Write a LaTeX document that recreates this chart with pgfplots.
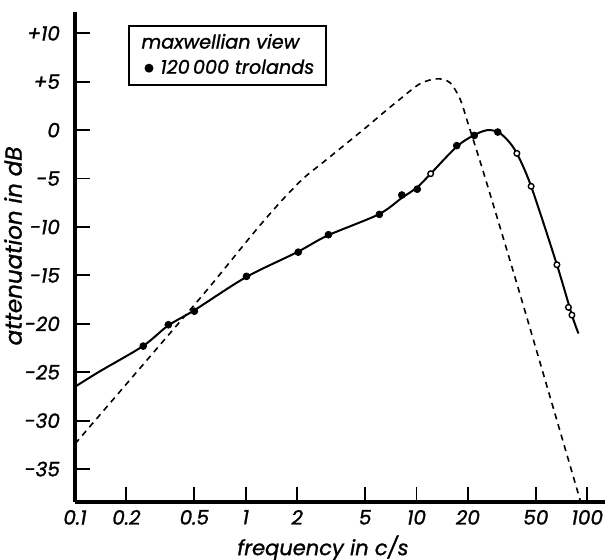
\documentclass[border=0pt]{standalone}
\usepackage{fontspec}
\setmainfont{Poppins}[ItalicFeatures={FakeBold=1.2}]
\usepackage{pgfplots}
\pgfplotsset{compat=1.18}
\pgfplotsset{dotlegend/.style={legend image code/.code={\path (0pt,0pt) (8.75pt,0pt); \draw[##1] plot coordinates {(5.5pt,0pt)};}}}
\begin{document}
\begin{tikzpicture}
\begin{axis}[
  at={(0,0)}, anchor=south west,
  scale only axis, width=265pt, height=245pt,
  xmode=log, xmin=0.1, xmax=127, ymin=-38.4, ymax=12.2,
  axis lines=left, axis line style={-, line width=1.8pt},
  tick align=inside, major tick length=7.5pt,
  every tick/.style={black, line width=0.9pt},
  xminorticks=false, yminorticks=false,
  xtick={0.1,0.2,0.5,1,2,5,10,20,50,100},
  xticklabels={0.1,0.2,0.5,1,2,5,10,20,50,100},
  ytick={10,5,0,-5,-10,-15,-20,-25,-30,-35},
  yticklabels={+10,+5,0,-5,-10,-15,-20,-25,-30,-35},
  tick label style={font=\itshape\fontsize{10}{12}\selectfont},
  xticklabel style={yshift=-0.5pt},
  yticklabel style={xshift=-4pt},
  xlabel={frequency in c/s},
  ylabel={attenuation in dB},
  xlabel style={font=\itshape\fontsize{10.5}{12}\selectfont,
    at={([xshift=124pt,yshift=-23pt]axis description cs:0,0)}, anchor=center},
  ylabel style={font=\itshape\fontsize{11.5}{12}\selectfont,
    at={([xshift=-31pt,yshift=128pt]axis description cs:0,0)}, anchor=center},
  legend style={at={(0.1,0.9735)}, anchor=north west, draw=black, line width=1pt,
    font=\itshape\fontsize{9.6}{12}\selectfont, inner xsep=4pt, inner ysep=2pt},
  legend cell align=left,
]
\addlegendimage{empty legend}
\addlegendentry{\hspace*{-9.5pt}maxwellian view}
% dashed curve
\addplot[black, line width=0.8pt, dash pattern=on 3pt off 2.5pt, smooth, forget plot] coordinates {
(0.1,-32.4) (0.3,-22.6) (0.6,-16.4) (1.0,-11.6) (1.3,-9.2) (1.7,-6.9) (2.2,-4.9)
(2.85,-3.3) (3.57,-1.9) (5.0,0.2) (6.4,1.8) (8.0,3.2) (10.5,4.8) (13.2,5.3)
(15.7,4.9) (18.0,3.2) (20.1,0.6) (25.2,-4.9) (41.4,-17.6) (90.8,-38.2)
};
% solid curve
\addplot[black, line width=1pt, smooth, forget plot] coordinates {
(0.1,-26.5) (0.14,-24.9) (0.25,-22.3) (0.35,-20.2) (0.5,-18.6) (1,-15.2) (2,-12.6)
(3,-10.9) (6,-8.7) (8.2,-7.0) (10.1,-5.9) (12.1,-4.5) (17.2,-1.7) (21.8,-0.5)
(26,0.0) (30,-0.2) (34,-1.0) (38.7,-2.4) (46.9,-5.8) (66.4,-13.9) (81.3,-19.1) (88.8,-21.0)
};
% filled markers
\addplot[only marks, mark=*, mark size=1.7pt, black, dotlegend] coordinates {
(0.251,-22.3) (0.352,-20.1) (0.5,-18.7) (1.01,-15.1) (2.03,-12.6) (3.05,-10.8)
(6.06,-8.7) (8.2,-6.7) (10.1,-6.1) (17.2,-1.6) (21.8,-0.55) (29.9,-0.2)
};
\addlegendentry{120\,000 trolands}
% open markers
\addplot[only marks, mark=*, mark size=1.4pt, black, mark options={fill=white, line width=0.7pt}, forget plot] coordinates {
(12.1,-4.5) (38.7,-2.4) (46.9,-5.8) (66.4,-13.9) (77.6,-18.3) (81.3,-19.1)
};
\end{axis}
\pgfresetboundingbox
\path[use as bounding box] (-37.5pt,-29pt) rectangle (266.5pt,251pt);
\end{tikzpicture}
\end{document}
